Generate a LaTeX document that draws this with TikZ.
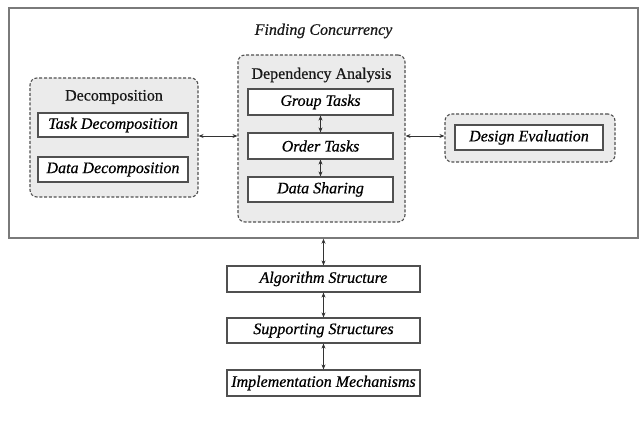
\documentclass[tikz,border=0pt]{standalone}
\usepackage{fontspec}
\setmainfont{Liberation Serif}[FakeBold=0.6]
\usetikzlibrary{arrows.meta}
\definecolor{groupfill}{HTML}{EBEBEB}
\definecolor{framegray}{HTML}{7A7A7A}
\definecolor{boxgray}{HTML}{505050}
\tikzset{
  outerbox/.style={draw=framegray, line width=1.4pt, fill=none, inner sep=0pt},
  groupbox/.style={draw=boxgray, dashed, dash pattern=on 3pt off 1.8pt, line width=1.1pt, fill=groupfill, rounded corners=7pt, inner sep=0pt},
  taskbox/.style={draw=boxgray, line width=1.2pt, fill=white, inner sep=0pt, font=\fontsize{16}{18}\selectfont\itshape},
  grouplabel/.style={font=\fontsize{16}{18}\selectfont, text=black!90},
  conn/.style={line width=0.9pt, draw=black!80, {Stealth[length=5pt,width=4pt]}-{Stealth[length=5pt,width=4pt]}},
}
\begin{document}
\begin{tikzpicture}[x=1pt,y=1pt]
\useasboundingbox (0,0) rectangle (643,-425);
\node[outerbox, minimum width=629, minimum height=230] (outer) at (323.5,-123) {};
\node[grouplabel, font=\fontsize{16}{18}\selectfont\itshape] (title) at (323.5,-31) {Finding Concurrency};

\node[groupbox, minimum width=168, minimum height=119] (decomp) at (114,-137.5) {};
\node[grouplabel] (decomplabel) at (114,-97) {Decomposition};
\node[taskbox, minimum width=150, minimum height=24] (task) at (113,-125) {Task Decomposition};
\node[taskbox, minimum width=150, minimum height=25] (data) at (113,-169.5) {Data Decomposition};

\node[groupbox, minimum width=167, minimum height=167] (dep) at (321.5,-138.5) {};
\node[grouplabel] (deplabel) at (321.5,-75) {Dependency Analysis};
\node[taskbox, minimum width=145, minimum height=26] (gt) at (320.5,-102) {Group Tasks};
\node[taskbox, minimum width=145, minimum height=26] (ot) at (320.5,-146) {Order Tasks};
\node[taskbox, minimum width=145, minimum height=25] (ds) at (320.5,-189.5) {Data Sharing};

\node[groupbox, minimum width=170, minimum height=48] (design) at (530,-138) {};
\node[taskbox, minimum width=148, minimum height=25] (de) at (529,-137.5) {Design Evaluation};

\node[taskbox, minimum width=193, minimum height=26] (alg) at (323.5,-279) {Algorithm Structure};
\node[taskbox, minimum width=193, minimum height=25] (sup) at (323.5,-330.5) {Supporting Structures};
\node[taskbox, minimum width=193, minimum height=26] (impl) at (323.5,-383) {Implementation Mechanisms};

\coordinate (da) at (decomp.east |- 0,-136);
\draw[conn] (da) -- (da -| dep.west);
\coordinate (db) at (dep.east |- 0,-136);
\draw[conn] (db) -- (db -| design.west);
\draw[conn] (gt.south) -- (ot.north);
\draw[conn] (ot.south) -- (ds.north);
\draw[conn] (outer.south) -- (alg.north);
\draw[conn] (alg.south) -- (sup.north);
\draw[conn] (sup.south) -- (impl.north);
\end{tikzpicture}
\end{document}
